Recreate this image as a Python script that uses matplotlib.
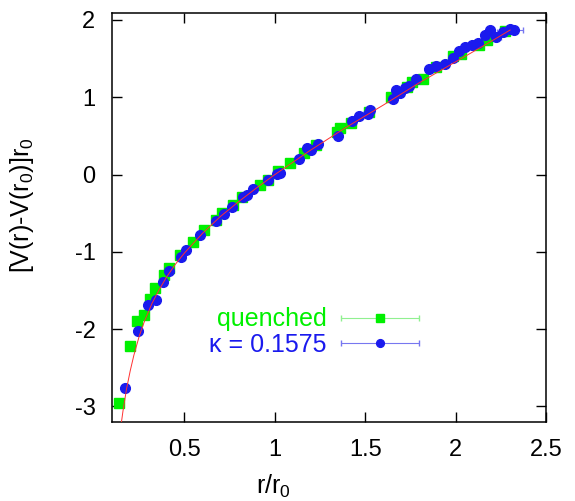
import matplotlib
matplotlib.use('Agg')
import matplotlib.pyplot as plt
from matplotlib.container import ErrorbarContainer
from matplotlib.legend_handler import HandlerErrorbar

plt.rcParams['font.family'] = ['Liberation Sans', 'DejaVu Sans']
plt.rcParams['mathtext.default'] = 'regular'
plt.rcParams['axes.unicode_minus'] = False

# quenched data
q_r = [0.14, 0.198, 0.238, 0.275, 0.308, 0.336, 0.386, 0.413, 0.476, 0.545,
       0.61, 0.677, 0.708, 0.77, 0.819, 0.916, 0.96, 1.017, 1.085, 1.162,
       1.226, 1.344, 1.362, 1.42, 1.52, 1.642, 1.73, 1.76, 1.82, 1.89,
       1.985, 2.03, 2.13, 2.17, 2.27]
q_v = [-2.96, -2.22, -1.89, -1.815, -1.61, -1.47, -1.30, -1.21, -1.035, -0.867,
       -0.715, -0.59, -0.50, -0.39, -0.29, -0.14, -0.07, 0.04, 0.155, 0.275,
       0.38, 0.556, 0.60, 0.67, 0.815, 1.0, 1.13, 1.195, 1.23, 1.39,
       1.54, 1.56, 1.68, 1.74, 1.86]

# kappa = 0.1575 data
k_r = [0.172, 0.243, 0.297, 0.342, 0.38, 0.417, 0.483, 0.511, 0.587, 0.677,
       0.72, 0.760, 0.826, 0.848, 0.88, 0.962, 1.01, 1.03, 1.135, 1.18,
       1.20, 1.239, 1.35, 1.427, 1.463, 1.513, 1.524, 1.653, 1.672, 1.69,
       1.72, 1.74, 1.78, 1.85, 1.89, 1.94, 1.985, 2.02, 2.05, 2.09,
       2.12, 2.16, 2.19, 2.22, 2.26, 2.30, 2.32]
k_v = [-2.76, -2.03, -1.69, -1.62, -1.39, -1.25, -1.07, -0.98, -0.78, -0.595,
       -0.51, -0.425, -0.285, -0.265, -0.19, -0.065, 0.01, 0.02, 0.20, 0.345,
       0.32, 0.39, 0.505, 0.69, 0.755, 0.785, 0.84, 0.98, 1.095, 1.05,
       1.12, 1.14, 1.23, 1.36, 1.41, 1.43, 1.51, 1.60, 1.655, 1.68,
       1.70, 1.80, 1.87, 1.775, 1.84, 1.88, 1.87]
k_rerr = [0] * 38 + [0.01, 0.01, 0.01, 0.02, 0.02, 0.03, 0.03, 0.03, 0.05]

# fit curve
fit_r = [0.15, 0.16, 0.18, 0.2, 0.22, 0.25, 0.28, 0.32, 0.36, 0.4, 0.45, 0.5,
         0.6, 0.7, 0.8, 0.9, 1.0, 1.2, 1.4, 1.6, 1.8, 2.0, 2.2, 2.3]
fit_v = [-3.23, -3.06, -2.77, -2.54, -2.34, -2.09, -1.89, -1.67, -1.49, -1.33,
         -1.16, -1.015, -0.76, -0.54, -0.35, -0.17, 0.0, 0.32, 0.62, 0.90,
         1.19, 1.46, 1.73, 1.87]

fig = plt.figure(figsize=(5.75, 5.01), dpi=100)
ax = fig.add_axes([0.195, 0.158, 0.755, 0.816])

green = '#00f000'
blue = '#1a1aee'

eq = ax.errorbar(q_r, q_v, xerr=[0] * len(q_r), fmt='s', color=green, ms=6.5,
                 ecolor='#90f090', elinewidth=0.8, capsize=2.5, label='quenched')
ek = ax.errorbar(k_r, k_v, xerr=k_rerr, fmt='o', color=blue, ms=7,
                 ecolor='#7777f0', elinewidth=0.8, capsize=2.5,
                 label='κ = 0.1575')
ax.plot(fit_r, fit_v, color='#ff3030', lw=0.7, zorder=3)

ax.set_xlim(0.1, 2.5)
ax.set_ylim(-3.2, 2.09)
ax.set_xticks([0.5, 1, 1.5, 2, 2.5])
ax.set_xticklabels(['0.5', '1', '1.5', '2', '2.5'])
ax.set_yticks([-3, -2, -1, 0, 1, 2])
ax.tick_params(direction='in', length=7, width=1, top=True, right=True,
               labelsize=17, pad=12)
for s in ax.spines.values():
    s.set_linewidth(1.1)

ax.set_xlabel(r'r/r$_0$', fontsize=18)
ax.set_ylabel(r'[V(r)-V(r$_0$)]r$_0$', fontsize=18)
ax.xaxis.set_label_coords(0.371, -0.125)
ax.yaxis.set_label_coords(-0.175, 0.53)

ax.legend(handles=[eq, ek], loc='center', bbox_to_anchor=(0.465, 0.22),
          frameon=False, markerfirst=False, fontsize=18, handlelength=3.1,
          handletextpad=0.6, labelspacing=0.05, labelcolor=[green, blue],
          handler_map={ErrorbarContainer: HandlerErrorbar(xerr_size=1.55)},
          markerscale=0.8)

fig.savefig('out.png', dpi=100)
